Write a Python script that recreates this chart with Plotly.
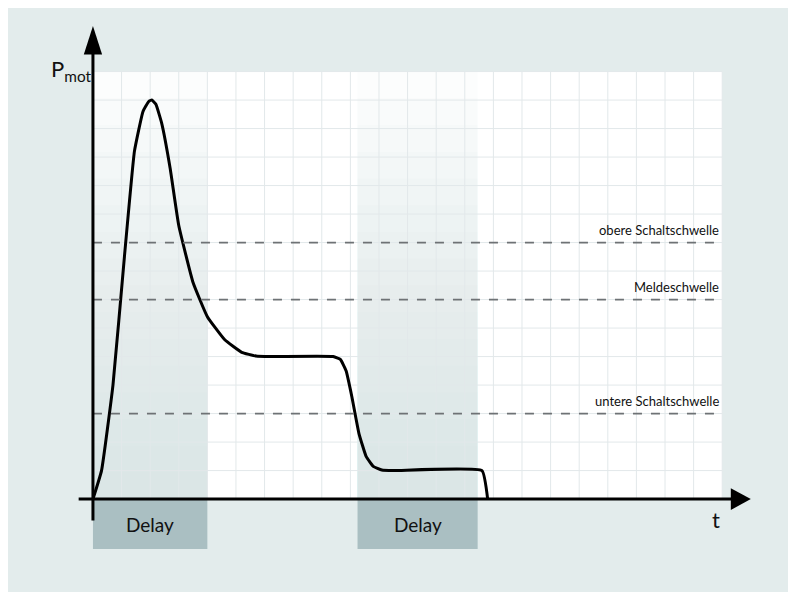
import plotly.graph_objects as go

curve_x = [0, 0.3, 0.7, 1.1, 1.45, 1.75, 1.95, 2.06, 2.2, 2.4, 2.7, 3.0, 3.5, 4.0, 4.6, 5.2, 5.7, 6.2, 8.4, 8.65, 8.85, 9.05, 9.3, 9.55, 9.8, 10.1, 10.5, 13.6, 13.8]
curve_y = [0, 1.0, 4.0, 8.5, 12.2, 13.6, 13.95, 14.0, 13.85, 13.2, 11.6, 9.6, 7.6, 6.4, 5.6, 5.15, 5.02, 5.0, 5.0, 4.9, 4.5, 3.6, 2.3, 1.5, 1.15, 1.02, 1.0, 1.0, 0]
thresholds = [9.0, 7.0, 3.0]
threshold_labels = ["obere Schaltschwelle", "Meldeschwelle", "untere Schaltschwelle"]
delays = [(0, 4.0), (9.25, 13.45)]
delay_label = "Delay"

XMAX, YMAX = 22, 15
fig = go.Figure()
shapes = []
shapes.append(dict(type="rect", x0=0, x1=XMAX, y0=0, y1=YMAX, fillcolor="white", line_width=0, layer="below"))
N = 16
for a, b in delays:
    for i in range(N):
        shapes.append(dict(type="rect", x0=a, x1=b, y0=0, y1=YMAX * (i + 1) / N,
                           fillcolor="#c8d6d9", opacity=0.06, line_width=0, layer="below"))
    shapes.append(dict(type="rect", x0=a, x1=b, y0=-1.75, y1=0, fillcolor="#aabfc2", line_width=0, layer="below"))
for i in range(1, XMAX + 1):
    shapes.append(dict(type="line", x0=i, x1=i, y0=0, y1=YMAX, line=dict(color="#e2e8ea", width=1), layer="below"))
for j in range(1, YMAX + 1):
    shapes.append(dict(type="line", x0=0, x1=XMAX, y0=j, y1=j, line=dict(color="#e2e8ea", width=1), layer="below"))
for t in thresholds:
    shapes.append(dict(type="line", x0=0, x1=XMAX, y0=t, y1=t, line=dict(color="#6e7275", width=1.8, dash="dash")))
shapes.append(dict(type="line", x0=-0.5, x1=22.6, y0=0, y1=0, line=dict(color="black", width=3)))
shapes.append(dict(type="line", x0=0, x1=0, y0=-0.75, y1=15.8, line=dict(color="black", width=3)))
shapes.append(dict(type="path", path="M 22.3,0.38 L 23.0,0 L 22.3,-0.38 Z", fillcolor="black", line_width=0))
shapes.append(dict(type="path", path="M -0.32,15.6 L 0,16.6 L 0.32,15.6 Z", fillcolor="black", line_width=0))

fig.add_trace(go.Scatter(x=curve_x, y=curve_y, mode="lines",
                         line=dict(color="black", width=3, shape="spline", smoothing=0.35),
                         hoverinfo="skip"))

ann = []
for t, lab in zip(thresholds, threshold_labels):
    ann.append(dict(x=XMAX - 0.05, y=t + 0.1, text=lab, showarrow=False, xanchor="right", yanchor="bottom",
                    font=dict(size=13, color="#111")))
for a, b in delays:
    ann.append(dict(x=(a + b) / 2, y=-0.9, text=delay_label, showarrow=False, font=dict(size=19, color="#111")))
ann.append(dict(x=-1.55, y=14.45, text="P<sub>mot</sub>", showarrow=False, xanchor="left", yanchor="bottom",
                font=dict(size=22, color="#111")))
ann.append(dict(x=21.8, y=-0.7, text="t", showarrow=False, font=dict(size=22, color="#111")))

fig.update_layout(width=780, height=584, margin=dict(l=0, r=0, t=0, b=0),
                  paper_bgcolor="#e3ecec", plot_bgcolor="#e3ecec", showlegend=False,
                  font=dict(family="Lato"), shapes=shapes, annotations=ann,
                  xaxis=dict(range=[-2.97, 24.30], visible=False, fixedrange=True),
                  yaxis=dict(range=[-3.26, 17.23], visible=False, fixedrange=True))
fig.write_html("out.html")
